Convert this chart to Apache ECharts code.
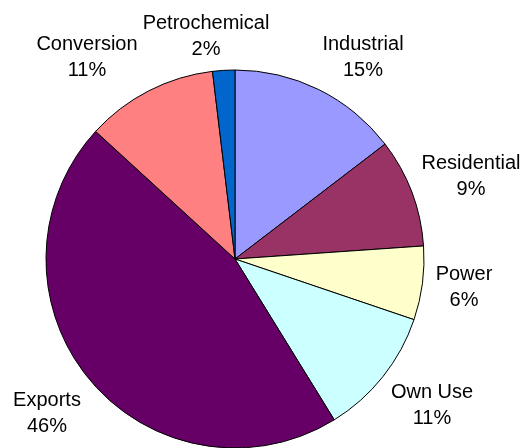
<!DOCTYPE html>
<html>
<head>
<meta charset="utf-8">
<script src="https://cdn.jsdelivr.net/npm/echarts@6/dist/echarts.min.js"></script>
<style>
  html, body { margin: 0; padding: 0; background: #fff; }
  #chart { width: 528px; height: 448px; }
</style>
</head>
<body>
<div id="chart"></div>
<script>
// sectors, clockwise from 12 o'clock
const sectors = ['Industrial', 'Residential', 'Power', 'Own Use', 'Exports', 'Conversion', 'Petrochemical'];
const shares = [14.6, 9.3, 6.3, 11.0, 45.6, 11.3, 1.9];
const sectorColors = ['#9999ff', '#993366', '#ffffcc', '#ccffff', '#660066', '#ff8080', '#0066cc'];

// label centres (layout only)
const labelPos = [[363, 57], [471, 176], [464, 287], [432, 405], [47, 413], [87, 57], [206, 36]];

const chart = echarts.init(document.getElementById('chart'));

chart.setOption({
    animation: false,
    series: [{
        type: 'pie',
        center: [235, 259],
        radius: 189,
        startAngle: 90,
        clockwise: true,
        data: sectors.map((name, i) => ({
            name: name,
            value: shares[i],
            itemStyle: { color: sectorColors[i] }
        })),
        itemStyle: {
            borderColor: '#000',
            borderWidth: 1
        },
        label: {
            show: true,
            position: 'outside',
            fontFamily: 'Liberation Sans, Arial, sans-serif',
            fontSize: 20,
            lineHeight: 26,
            color: '#000',
            align: 'center',
            overflow: 'none',
            formatter: function(p) {
                return p.name + '\n' + Math.round(p.percent) + '%';
            }
        },
        labelLine: { show: false },
        emphasis: { disabled: true },
        labelLayout: function(params) {
            const pos = labelPos[params.dataIndex];
            return {
                x: pos[0],
                y: pos[1],
                align: 'center',
                verticalAlign: 'middle'
            };
        }
    }]
});
</script>
</body>
</html>
